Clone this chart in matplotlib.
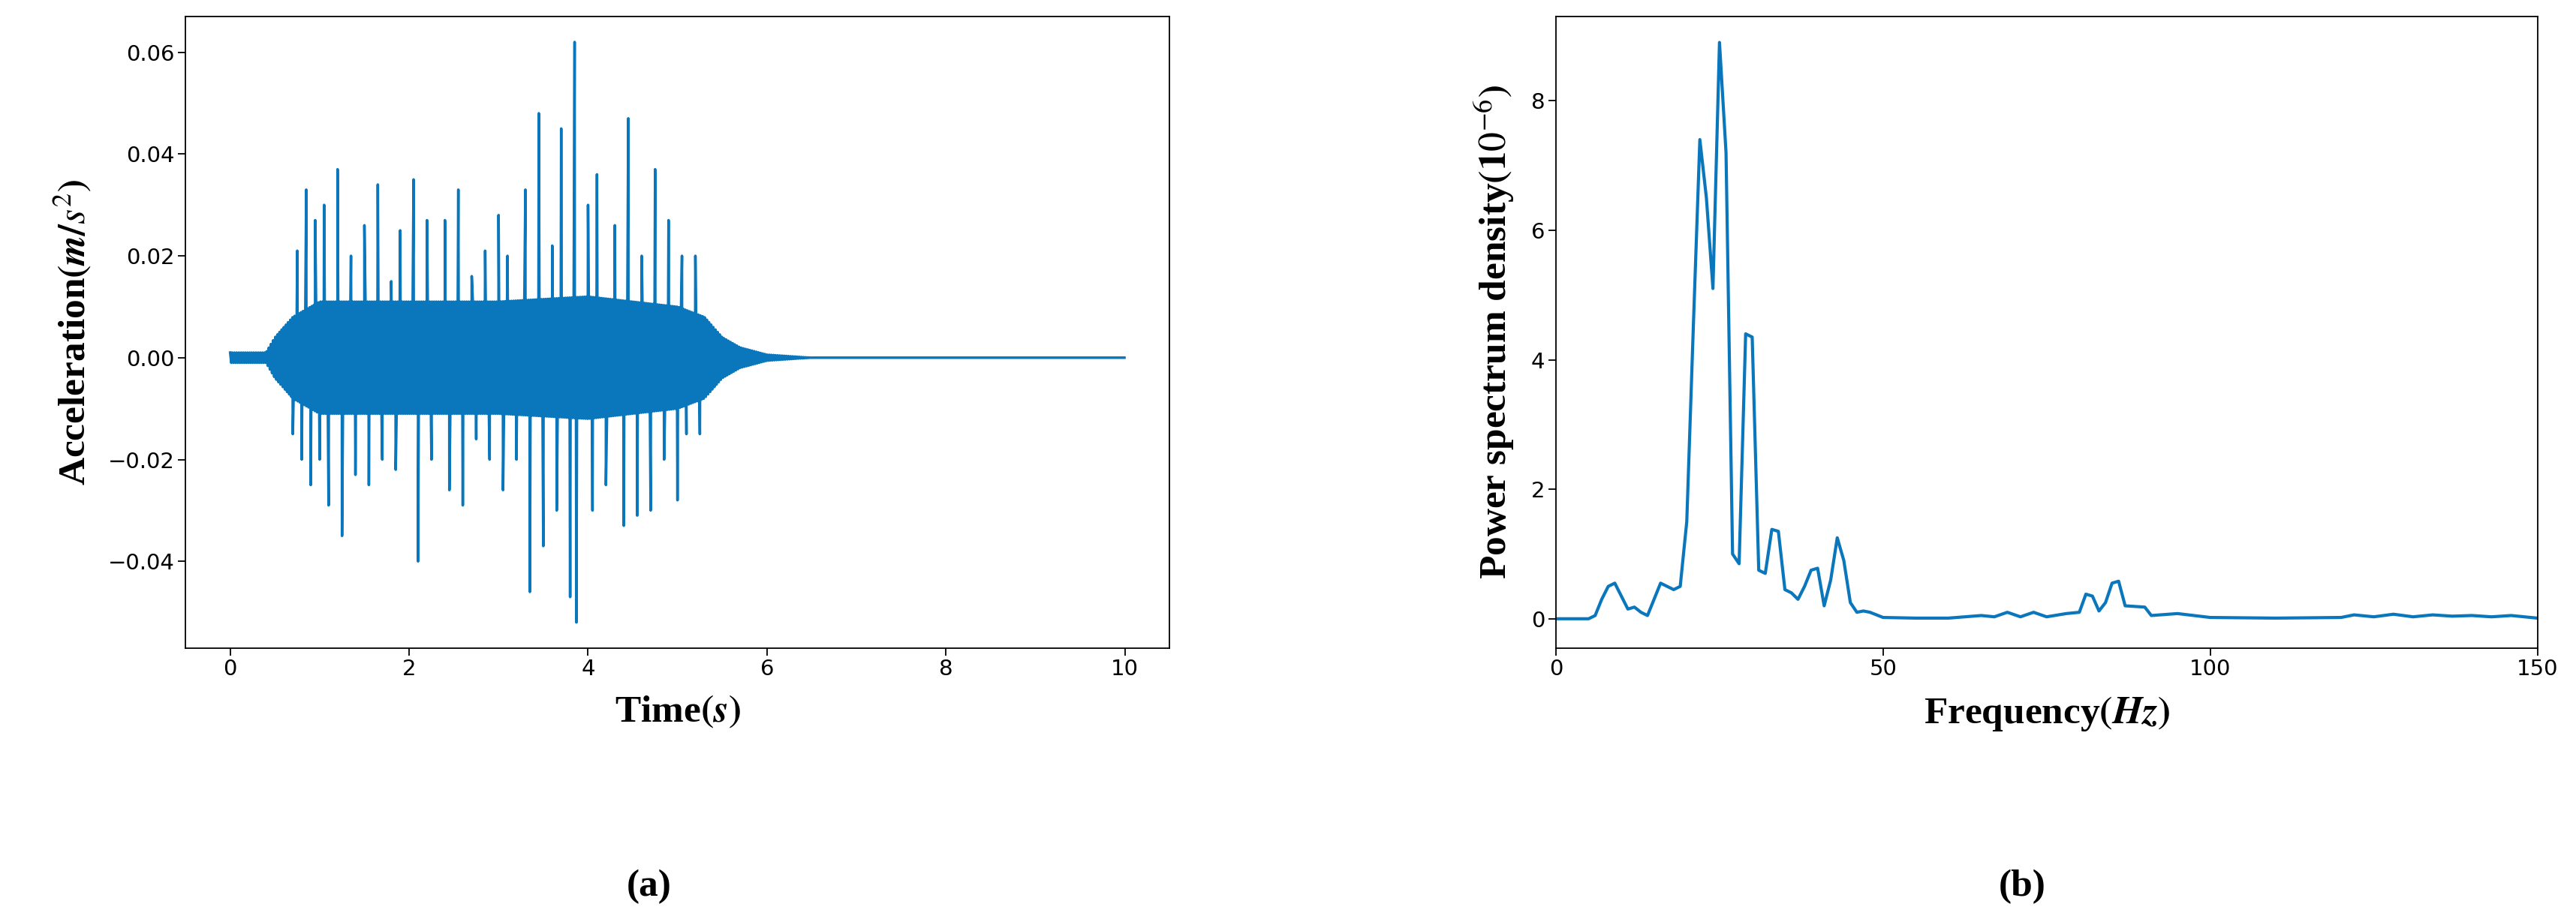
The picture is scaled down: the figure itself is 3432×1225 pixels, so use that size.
import numpy as np
import matplotlib
matplotlib.use("Agg")
import matplotlib.pyplot as plt

# ---- data (a) ----
env_t = [0, 0.4, 0.5, 0.7, 1.0, 2.0, 3.0, 4.0, 5.0, 5.3, 5.5, 5.7, 6.0, 6.5, 10.0]
env_up = [0.001, 0.001, 0.004, 0.008, 0.011, 0.011, 0.011, 0.012, 0.010, 0.008, 0.004, 0.002, 0.0006, 0.0, 0.0]
pos_t = [0.75,0.85,0.95,1.05,1.2,1.35,1.5,1.65,1.8,1.9,2.05,2.2,2.4,2.55,2.7,2.85,3.0,3.1,3.3,3.45,3.6,3.7,3.85,4.0,4.1,4.3,4.45,4.6,4.75,4.9,5.05,5.2]
pos_a = [0.021,0.033,0.027,0.030,0.037,0.020,0.026,0.034,0.015,0.025,0.035,0.027,0.027,0.033,0.016,0.021,0.028,0.020,0.033,0.048,0.022,0.045,0.062,0.030,0.036,0.026,0.047,0.020,0.037,0.027,0.020,0.020]
neg_t = [0.7,0.8,0.9,1.0,1.1,1.25,1.4,1.55,1.7,1.85,2.1,2.25,2.45,2.6,2.75,2.9,3.05,3.2,3.35,3.5,3.65,3.8,3.87,4.05,4.2,4.4,4.55,4.7,4.85,5.0,5.1,5.25]
neg_a = [-0.015,-0.020,-0.025,-0.020,-0.029,-0.035,-0.023,-0.025,-0.020,-0.022,-0.040,-0.020,-0.026,-0.029,-0.016,-0.020,-0.026,-0.020,-0.046,-0.037,-0.030,-0.047,-0.052,-0.030,-0.025,-0.033,-0.031,-0.030,-0.020,-0.028,-0.015,-0.015]

# ---- data (b) ----
freq = [0,5,6,7,8,9,10,11,12,13,14,15,16,17,18,19,20,21,22,23,24,25,26,27,28,29,30,31,32,33,34,35,36,37,38,39,40,41,42,43,44,45,46,47,48,50,55,60,65,67,69,71,73,75,78,80,81,82,83,84,85,86,87,90,91,95,100,110,120,122,125,128,131,134,137,140,143,146,150]
psd = [0,0,0.05,0.3,0.5,0.55,0.35,0.15,0.18,0.1,0.05,0.3,0.55,0.5,0.45,0.5,1.5,4.5,7.4,6.5,5.1,8.9,7.2,1.0,0.85,4.4,4.35,0.75,0.7,1.38,1.35,0.45,0.4,0.3,0.5,0.75,0.78,0.2,0.6,1.25,0.9,0.25,0.1,0.12,0.1,0.02,0.01,0.01,0.05,0.03,0.1,0.03,0.1,0.03,0.08,0.1,0.38,0.35,0.12,0.25,0.55,0.58,0.2,0.18,0.05,0.08,0.02,0.01,0.02,0.06,0.03,0.07,0.03,0.06,0.04,0.05,0.03,0.05,0.01]

# build series (a)
tb = np.arange(0, 10.0001, 0.012)
up = np.interp(tb, env_t, env_up)
sign = np.where(np.arange(len(tb)) % 2 == 0, 1, -1)
vb = up * sign
t_all = np.concatenate([tb, pos_t, neg_t])
v_all = np.concatenate([vb, pos_a, neg_a])
o = np.argsort(t_all, kind="stable")
t_all, v_all = t_all[o], v_all[o]

col = "#0a77bd"
plt.rcParams["mathtext.fontset"] = "stix"
fig = plt.figure(figsize=(34.32, 12.25), dpi=100)
lab = dict(family="Liberation Serif", weight="bold", size=37)

ax1 = fig.add_axes([0.072, 0.295, 0.382, 0.687])
ax1.plot(t_all, v_all, color=col, lw=2.5)
ax1.set_xlim(-0.5, 10.5)
ax1.set_ylim(-0.057, 0.067)
ax1.set_xticks([0, 2, 4, 6, 8, 10])
ax1.set_yticks([-0.04, -0.02, 0.0, 0.02, 0.04, 0.06])
ax1.set_yticklabels(["−0.04", "−0.02", "0.00", "0.02", "0.04", "0.06"])
ax1.set_xlabel(r"Time$\boldsymbol{(s)}$", labelpad=14, **lab)
ax1.set_ylabel(r"Acceleration$\boldsymbol{(m/s^2)}$", labelpad=14, **lab)

ax2 = fig.add_axes([0.604, 0.295, 0.381, 0.687])
ax2.plot(freq, psd, color=col, lw=3)
ax2.set_xlim(0, 150)
ax2.set_ylim(-0.45, 9.3)
ax2.set_xticks([0, 50, 100, 150])
ax2.set_yticks([0, 2, 4, 6, 8])
ax2.set_xlabel(r"Frequency$\boldsymbol{(Hz)}$", labelpad=14, **lab)
ax2.set_ylabel(r"Power spectrum density$\boldsymbol{(10^{-6})}$", labelpad=14, **lab)

for ax in (ax1, ax2):
    ax.tick_params(labelsize=21, length=7, width=1.3)
    for s in ax.spines.values():
        s.set_linewidth(1.3)

fig.text(0.252, 0.035, "(a)", ha="center", va="center", **lab)
fig.text(0.785, 0.035, "(b)", ha="center", va="center", **lab)
fig.savefig("out.png", dpi=100)
